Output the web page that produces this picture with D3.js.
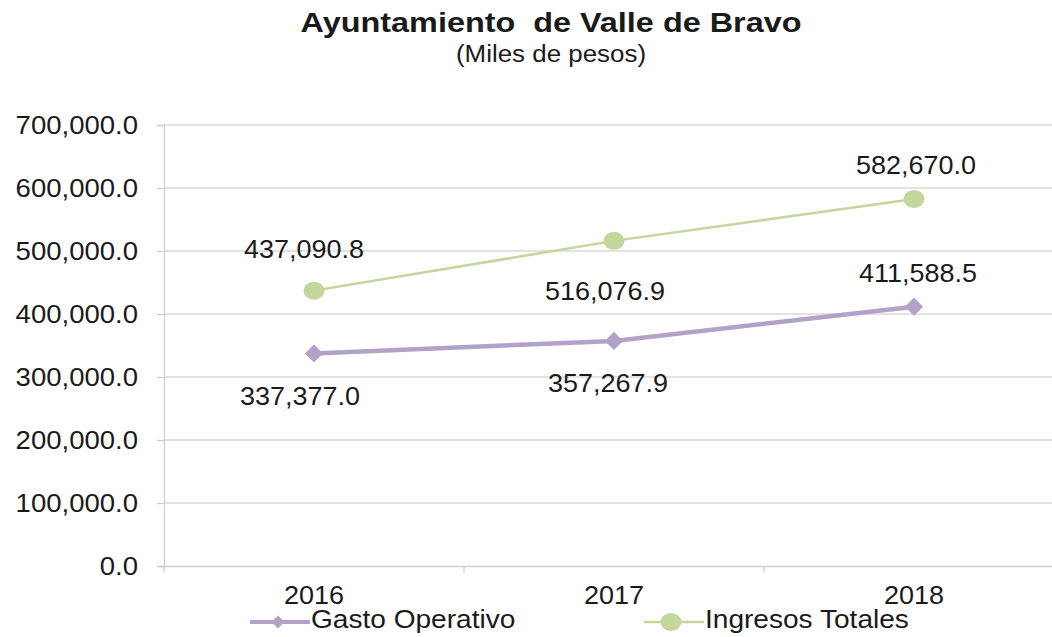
<!DOCTYPE html>
<html>
<head>
<meta charset="utf-8">
<script src="https://cdn.jsdelivr.net/npm/d3@7"></script>
<style>
  body { margin: 0; background: #fff; }
  svg { display: block; font-family: "Liberation Sans", Arial, sans-serif; }
</style>
</head>
<body>
<div id="chart"></div>
<script>
// data
const years = ["2016", "2017", "2018"];
const gasto = [337377.0, 357267.9, 411588.5];
const ingresos = [437090.8, 516076.9, 582670.0];
const yTicks = [0, 100000, 200000, 300000, 400000, 500000, 600000, 700000];
const seriesNames = ["Gasto Operativo", "Ingresos Totales"];

const W = 1052, H = 637;
const SX = 1.08; // text in the picture is a bit wide

const svg = d3.select("#chart").append("svg")
    .attr("width", W).attr("height", H);

const pLeft = 164, pRight = 1064, pTop = 125, pBottom = 566;

const x = d3.scaleBand().domain(years).range([pLeft, pRight]);
const y = d3.scaleLinear().domain([0, 700000]).range([pBottom, pTop]);
const fmt = d3.format(",.1f");

function stext(g, tx, ty, str, size, anchor, weight, sx) {
    return g.append("text")
        .attr("transform", `translate(${tx},${ty}) scale(${sx || SX},1)`)
        .attr("text-anchor", anchor || "middle")
        .style("font-size", size + "px")
        .style("font-weight", weight || "normal")
        .style("fill", "#1a1a1a")
        .text(str);
}

// title
stext(svg, 551, 32, "Ayuntamiento  de Valle de Bravo", 27, "middle", "bold", 1.2).style("white-space", "pre");
stext(svg, 551, 62, "(Miles de pesos)", 24);

// gridlines
svg.append("g").selectAll("line").data(yTicks.slice(1)).join("line")
    .attr("x1", pLeft).attr("x2", pRight)
    .attr("y1", d => y(d)).attr("y2", d => y(d))
    .attr("stroke", "#d9d9d9").attr("stroke-width", 1.3);

// axes
const yAxis = svg.append("g").attr("transform", `translate(${pLeft},0)`)
    .call(d3.axisLeft(y).tickValues(yTicks).tickSize(7).tickFormat(""));
const xAxis = svg.append("g").attr("transform", `translate(0,${pBottom})`)
    .call(d3.axisBottom(x).tickSize(0).tickFormat(""));
xAxis.selectAll(".tk").data(d3.range(years.length + 1)).join("line")
    .attr("x1", i => pLeft + i * x.step()).attr("x2", i => pLeft + i * x.step())
    .attr("y1", 0).attr("y2", 7);
[yAxis, xAxis].forEach(a => {
    a.select(".domain").attr("stroke", "#d0d0c8").attr("stroke-width", 1.3);
    a.selectAll("line").attr("stroke", "#d0d0c8").attr("stroke-width", 1.3);
});

yTicks.forEach(t => stext(svg, 138, y(t) + 9, fmt(t), 25.5, "end"));
years.forEach(yr => stext(svg, x(yr) + x.bandwidth() / 2, 604, yr, 25));

const cx = d => x(d) + x.bandwidth() / 2;
const green = "#c3d69b", purple = "#b3a2c7";

// Ingresos Totales
svg.append("path").datum(ingresos)
    .attr("fill", "none").attr("stroke", green).attr("stroke-width", 2.5)
    .attr("d", d3.line().x((d, i) => cx(years[i])).y(d => y(d)));
svg.append("g").selectAll("ellipse").data(ingresos).join("ellipse")
    .attr("cx", (d, i) => cx(years[i])).attr("cy", d => y(d))
    .attr("rx", 10.5).attr("ry", 9).attr("fill", green);

// Gasto Operativo
svg.append("path").datum(gasto)
    .attr("fill", "none").attr("stroke", purple).attr("stroke-width", 4.5)
    .attr("d", d3.line().x((d, i) => cx(years[i])).y(d => y(d)));
const diamond = d3.symbol().type(d3.symbolDiamond2).size(210);
svg.append("g").selectAll("path").data(gasto).join("path")
    .attr("transform", (d, i) => `translate(${cx(years[i])},${y(d)})`)
    .attr("d", diamond).attr("fill", purple);

// data labels
const ingOff = [-33, 59, -25];
const ingDx = [-10, -9, 2];
ingresos.forEach((v, i) => stext(svg, cx(years[i]) + ingDx[i], y(v) + ingOff[i], fmt(v), 25));
const gasOff = [51.5, 51, -25];
const gasDx = [-14, -6, 4];
gasto.forEach((v, i) => stext(svg, cx(years[i]) + gasDx[i], y(v) + gasOff[i], fmt(v), 25));

// legend
const leg = [{ name: seriesNames[0], color: purple, x0: 250 }, { name: seriesNames[1], color: green, x0: 644 }];
const legDiamond = d3.symbol().type(d3.symbolDiamond2).size(110);
leg.forEach((l, i) => {
    const g = svg.append("g");
    g.append("line").attr("x1", l.x0).attr("x2", l.x0 + 60).attr("y1", 622).attr("y2", 622)
        .attr("stroke", l.color).attr("stroke-width", i === 0 ? 4 : 2.5);
    if (i === 0) {
        g.append("path").attr("transform", `translate(${l.x0 + 28},622)`).attr("d", legDiamond).attr("fill", l.color);
    } else {
        g.append("ellipse").attr("cx", l.x0 + 27).attr("cy", 622).attr("rx", 10.5).attr("ry", 9).attr("fill", l.color);
    }
    stext(g, l.x0 + 61, 628, l.name, 26, "start");
});
</script>
</body>
</html>
